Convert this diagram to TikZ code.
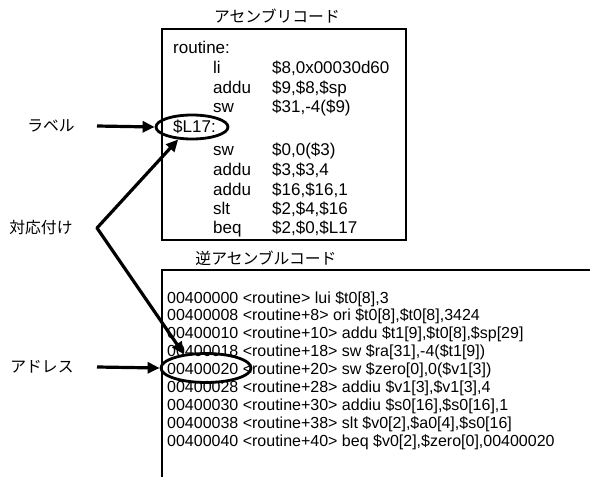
\documentclass[tikz,border=0pt]{standalone}
\usepackage{fontspec}
\setmainfont{Liberation Sans}
\newfontfamily\jpfont{Noto Sans CJK JP}
\usetikzlibrary{shapes.geometric, arrows.meta}

\begin{document}
\begin{tikzpicture}[
    x=1pt, y=-1pt,
    % text styles
    code line/.style={anchor=base west, inner sep=0pt, font=\fontsize{16}{18}\selectfont},
    asm line/.style={code line, font=\fontsize{17}{18}\selectfont},
    jp text/.style={inner sep=0pt, font=\jpfont\fontsize{15.8}{18}\selectfont},
    % frames, rings and arrows
    code box/.style={line width=1.3pt},
    ring/.style={ellipse, draw, line width=2.8pt, inner sep=0pt},
    >={Triangle[length=12pt, width=11pt]},
    link arrow/.style={->, line width=3.2pt, line join=round}
]
    \useasboundingbox (0,0) rectangle (590,477);

    % assembly listing
    \node[jp text] (asmtitle) at (277,16) {アセンブリコード};
    \draw[code box] (162,29) rectangle (406,240);

    \node[asm line] (asmhead) at (173,53) {routine:};
    \foreach \y/\op/\arg in {73/li/{\$8,0x00030d60}, 93/addu/{\$9,\$8,\$sp}, 112/sw/{\$31,-4(\$9)},
        155/sw/{\$0,0(\$3)}, 175/addu/{\$3,\$3,4}, 195/addu/{\$16,\$16,1},
        214/slt/{\$2,\$4,\$16}, 233/beq/{\$2,\$0,\$L17}} {
        \node[asm line] at (213,\y) {\op};
        \node[asm line] at (272,\y) {\arg};
    }
    \node[asm line] (asmlbl) at (173,132) {\$L17:};

    % disassembly listing
    \node[jp text] (distitle) at (266,258) {逆アセンブルコード};
    \draw[code box] (590,270) -- (162,270) -- (162,477);

    \foreach \i/\txt in {0/{00400000 <routine> lui \$t0[8],3},
        1/{00400008 <routine+8> ori \$t0[8],\$t0[8],3424},
        2/{00400010 <routine+10> addu \$t1[9],\$t0[8],\$sp[29]},
        3/{00400018 <routine+18> sw \$ra[31],-4(\$t1[9])},
        4/{00400020 <routine+20> sw \$zero[0],0(\$v1[3])},
        5/{00400028 <routine+28> addiu \$v1[3],\$v1[3],4},
        6/{00400030 <routine+30> addiu \$s0[16],\$s0[16],1},
        7/{00400038 <routine+38> slt \$v0[2],\$a0[4],\$s0[16]},
        8/{00400040 <routine+40> beq \$v0[2],\$zero[0],00400020}} {
        \node[code line] (dis\i) at (167,303+17.9*\i) {\txt};
    }

    % rings
    \node[ring, minimum width=72pt, minimum height=24pt] (lblring) at (192,127) {};
    \node[ring, minimum width=90pt, minimum height=29pt] (addrring) at (206,368) {};

    % left labels
    \node[jp text] (lbl) at (51,126) {ラベル};
    \node[jp text] (corr) at (41,228) {対応付け};
    \node[jp text] (addr) at (42,367) {アドレス};

    \coordinate (lbltail) at (97,126);
    \coordinate (bend) at (97,228);
    \coordinate (addrtail) at (97,367);

    \draw[link arrow] (lbltail) -- (lblring.west);
    \draw[link arrow] (addrtail) -- (addrring.west);
    \draw[link arrow, <->] (lblring.222) -- (bend) -- (addrring.148);
\end{tikzpicture}
\end{document}
